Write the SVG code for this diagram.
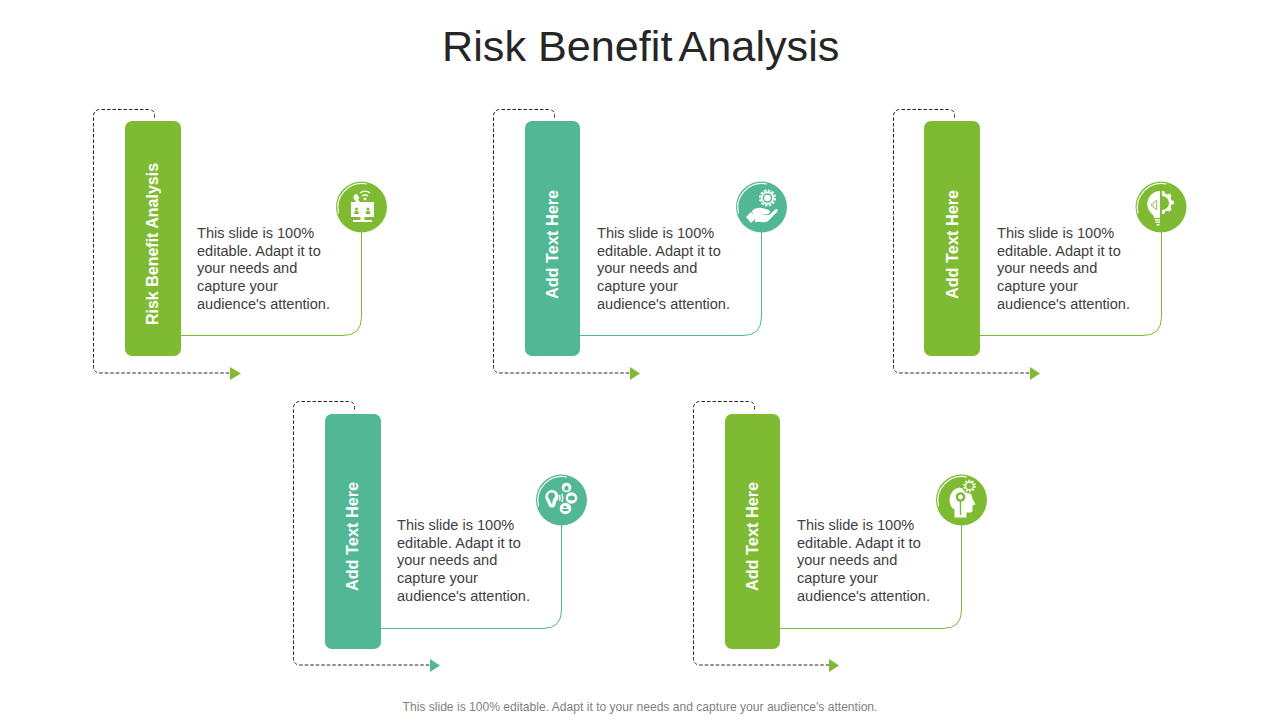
<svg xmlns="http://www.w3.org/2000/svg" width="1280" height="720" viewBox="0 0 1280 720">
<style>
text{font-family:"Liberation Sans",Arial,sans-serif}
.title{font-size:43.2px;fill:#262626}
.foot{font-size:12.1px;fill:#7f7f7f;text-anchor:middle}
.body{font-size:14.55px;fill:#404040}
.bar{font-size:16px;font-weight:bold;fill:#fff;text-anchor:middle}
.bar2{font-size:16.3px}
.dash{fill:none;stroke:#262626;stroke-width:1;stroke-dasharray:3.500 2}
.line{fill:none;stroke-width:1}
.g{fill:#7fbb32}.t{fill:#52b795}
.ls-g{stroke:#7fbb32}.ls-t{stroke:#52b795}
.ring{fill:none;stroke:#fff;stroke-width:1.200}
.w{fill:#fff}
.wl{fill:none;stroke:#fff;stroke-width:1.400}
</style>
<defs>
<path id="dashed" class="dash" d="M61 8V6Q61 0 55 0H7Q0 0 0 7V257Q0 263.500 7 263.500H137"/>
</defs>
<text class="title" x="442" y="61">Risk Benefit <tspan dx="-3.500">Analysis</tspan></text>

<g id="connectors">
<use href="#dashed" x="93.500" y="109.500"/><polygon class="g" points="230,367 241,373.500 230,380"/>
<use href="#dashed" x="493.500" y="109.500"/><polygon class="g" points="630,367 640,373.500 630,380"/>
<use href="#dashed" x="893.500" y="109.500"/><polygon class="g" points="1030,367 1040,373.500 1030,380"/>
<use href="#dashed" x="293.500" y="401.500"/><polygon class="t" points="430,659 440,665.500 430,672"/>
<use href="#dashed" x="693.500" y="401.500"/><polygon class="g" points="829,659 839,665.500 829,672"/>
<path class="line ls-g" d="M181 335.500H343Q361.500 335.500 361.500 317V232"/>
<path class="line ls-t" d="M580 335.500H743Q761.500 335.500 761.500 317V232"/>
<path class="line ls-g" d="M980 335.500H1143Q1161.500 335.500 1161.500 317V232"/>
<path class="line ls-t" d="M381 628.500H543Q561.500 628.500 561.500 610V525"/>
<path class="line ls-g" d="M780 628.500H943Q961.500 628.500 961.500 610V525"/>
</g>

<g id="node-1">
<rect class="g" x="125" y="121" width="56" height="235" rx="7"/>
<text class="bar" transform="translate(158 244) rotate(-90)">Risk Benefit Analysis</text>
<text class="body"><tspan x="197" y="238">This slide is 100%</tspan><tspan x="197" y="256">editable. Adapt it to</tspan><tspan x="197" y="273">your needs and</tspan><tspan x="197" y="291">capture your</tspan><tspan x="197" y="309">audience's attention.</tspan></text>
<circle class="g" cx="361.500" cy="207" r="25.500"/>
<path class="ring" d="M338.500 213.500A24.200 24.200 0 0 1 367 184"/>
<g>
<rect class="w" x="351" y="202" width="23" height="15"/>
<rect class="w" x="360.500" y="217" width="4" height="3"/>
<rect class="w" x="353" y="220" width="19" height="2"/>
<path class="g" d="M354 214h5l-1-3h-3zM365.500 214h5l-1-3h-3z"/>
<circle class="g" cx="356.500" cy="209" r="1.500"/><circle class="g" cx="368" cy="209" r="1.500"/>
<path class="w" d="M354 195l3-1 2.500 4-1.500 1.500 2 2.500-2.500 1.500-4-5z"/>
<path class="wl" d="M360 193a7.500 7.500 0 0 1 10 0M362 196a4.500 4.500 0 0 1 6 0" stroke-width="1"/>
<circle class="w" cx="365" cy="199" r="1.400"/>
</g>
</g>

<g id="node-2">
<rect class="t" x="525" y="121" width="55" height="235" rx="7"/>
<text class="bar bar2" transform="translate(558 244.500) rotate(-90)">Add Text Here</text>
<text class="body"><tspan x="597" y="238">This slide is 100%</tspan><tspan x="597" y="256">editable. Adapt it to</tspan><tspan x="597" y="273">your needs and</tspan><tspan x="597" y="291">capture your</tspan><tspan x="597" y="309">audience's attention.</tspan></text>
<circle class="t" cx="761.500" cy="207" r="25.500"/>
<path class="ring" d="M738.500 213.500A24.200 24.200 0 0 1 767 184"/>
<g>
<circle class="w" cx="767.500" cy="198" r="6.500"/>
<circle cx="767.500" cy="198" r="7.500" fill="none" stroke="#fff" stroke-width="2" stroke-dasharray="2.500 1.430"/>
<circle class="t" cx="767.500" cy="198" r="4.800"/>
<circle class="w" cx="767.500" cy="198" r="3.300"/>
<path class="w" d="M746 217l5-5 5 6-5 5z"/>
<path class="w" d="M752 211Q756 207 762 208L769 210Q771 212 768 214L761 214 769 215 776 209Q779 209 777 212L768 221Q765 223 761 222L756 222 755.500 222.500z"/>
</g>
</g>

<g id="node-3">
<rect class="g" x="924" y="121" width="56" height="235" rx="7"/>
<text class="bar bar2" transform="translate(957.500 244.500) rotate(-90)">Add Text Here</text>
<text class="body"><tspan x="997" y="238">This slide is 100%</tspan><tspan x="997" y="256">editable. Adapt it to</tspan><tspan x="997" y="273">your needs and</tspan><tspan x="997" y="291">capture your</tspan><tspan x="997" y="309">audience's attention.</tspan></text>
<circle class="g" cx="1161" cy="207" r="25.500"/>
<path class="ring" d="M1138 213.500A24.200 24.200 0 0 1 1166.500 184"/>
<g>
<path class="w" d="M1160 191a13 13 0 0 0-9 22q3 2.500 3 4v1h6z"/>
<path class="w" d="M1162 191h2l1 2.500 2.500 1 2-1 2 2-1 2.500 1 2.500 2.500.5v3l-2.500.5-1 2.500 1 2.500-2 2-2-1-2.500 1-1 2.500h-2v-4a7 7 0 0 0 0-14z"/>
<rect class="w" x="1155" y="219" width="5" height="1.500"/><rect class="w" x="1155.500" y="221.500" width="4.500" height="1.500"/><rect class="w" x="1156.500" y="224" width="3" height="1.500"/>
<path d="M1151.500 204h2v-1.500l3-2v9l-3-2v-1.500h-2z" fill="none" stroke="#7fbb32" stroke-width=".8"/>
</g>
</g>

<g id="node-4">
<rect class="t" x="325" y="414" width="56" height="235" rx="7"/>
<text class="bar bar2" transform="translate(358 536.500) rotate(-90)">Add Text Here</text>
<text class="body"><tspan x="397" y="530">This slide is 100%</tspan><tspan x="397" y="548">editable. Adapt it to</tspan><tspan x="397" y="565">your needs and</tspan><tspan x="397" y="583">capture your</tspan><tspan x="397" y="601">audience's attention.</tspan></text>
<circle class="t" cx="561.500" cy="500" r="25.500"/>
<path class="ring" d="M538.500 506.500A24.200 24.200 0 0 1 567 477"/>
<g>
<path class="w" d="M552 490a6.500 6.500 0 0 1 6 9l-2 3-1 4q-1 1.500-3 1.500-2 0-3-1.500l-3-6a7 7 0 0 1 6-10zm0 2.500a3.500 3.500 0 0 0-3 6l3 6 1-5 2-3q0-4-3-4z"/>
<circle class="w" cx="566.500" cy="487.500" r="4.800"/><path class="t" d="M564.500 490.500v-3l2-2 2 1.500v3.500z"/>
<circle class="w" cx="571.500" cy="498" r="5.800"/><ellipse class="t" cx="571.500" cy="498" rx="3.500" ry="2.500"/>
<circle class="w" cx="565.500" cy="508.500" r="5.800"/><path class="t" d="M562.500 509h6v2h-6zM563.500 506h3v2h-3z"/>
<path class="wl" d="M559.500 495q1 3 0 6M562 494q1.500 4 0 8" stroke-width="1"/>
</g>
</g>

<g id="node-5">
<rect class="g" x="725" y="414" width="55" height="235" rx="7"/>
<text class="bar bar2" transform="translate(758 536.500) rotate(-90)">Add Text Here</text>
<text class="body"><tspan x="797" y="530">This slide is 100%</tspan><tspan x="797" y="548">editable. Adapt it to</tspan><tspan x="797" y="565">your needs and</tspan><tspan x="797" y="583">capture your</tspan><tspan x="797" y="601">audience's attention.</tspan></text>
<circle class="g" cx="961.500" cy="500" r="25.500"/>
<path class="ring" d="M938.500 506.500A24.200 24.200 0 0 1 967 477"/>
<g>
<path class="w" d="M960 488a12.500 12.500 0 0 1 12.500 11l3 5.500-3 1v5q0 2-3 2h-3v5h-12v-8q-5-3-5-9.500a12 12 0 0 1 10.500-12.500z"/>
<circle cx="969.500" cy="486" r="4.500" fill="none" stroke="#7fbb32" stroke-width="6"/>
<circle class="wl" cx="969.500" cy="486" r="4" stroke-width="2.600"/>
<circle cx="969.500" cy="486" r="5.500" fill="none" stroke="#fff" stroke-width="1.600" stroke-dasharray="1.800 1.650"/>
<circle class="g" cx="960.500" cy="497" r="4.800"/><circle class="w" cx="960.500" cy="497" r="2.400"/>
<rect class="g" x="959.800" y="501" width="1.400" height="14"/>
</g>
</g>

<text class="foot" x="640" y="710.500">This slide is 100% editable. Adapt it to your needs and capture your audience's attention.</text>
</svg>
